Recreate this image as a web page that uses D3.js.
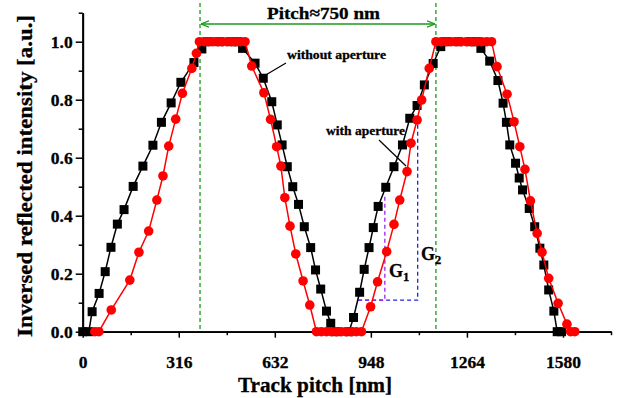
<!DOCTYPE html>
<html>
<head>
<meta charset="utf-8">
<script src="https://cdn.jsdelivr.net/npm/d3@7"></script>
<style>
  body { margin: 0; background: #fff; }
  svg text { font-family: "Liberation Serif", "Times New Roman", serif; font-weight: bold; fill: #000; stroke: #000; stroke-width: 0.3; }
</style>
</head>
<body>
<script>
// track position [nm] and inversed reflected intensity
const withoutX = [0, 20, 31, 54, 74, 93, 114, 136, 166, 198, 231, 259, 291, 323, 366, 392,
    410, 450, 490, 510,
    526, 567, 594, 622, 640, 656, 673, 691, 710, 729, 750, 766, 783, 802, 816, 832, 876,
    891, 911, 926, 942, 956, 972, 997, 1024, 1052, 1076, 1100, 1124, 1153, 1178,
    1195, 1235, 1275, 1295,
    1310, 1339, 1366, 1383, 1394, 1405, 1424, 1436, 1447, 1469, 1487, 1504, 1517, 1533, 1550, 1561, 1575];
const withoutY = [0, 0, 0.069, 0.132, 0.207, 0.291, 0.371, 0.421, 0.501, 0.571, 0.643, 0.722, 0.789, 0.860, 0.928, 0.975,
    1, 1, 1, 1,
    0.977, 0.926, 0.874, 0.793, 0.713, 0.644, 0.569, 0.500, 0.439, 0.362, 0.290, 0.213, 0.147, 0.071, 0.029, 0, 0,
    0.049, 0.136, 0.215, 0.290, 0.359, 0.432, 0.498, 0.569, 0.644, 0.736, 0.780, 0.851, 0.925, 0.983,
    1, 1, 1, 1,
    0.977, 0.933, 0.866, 0.788, 0.722, 0.644, 0.581, 0.530, 0.489, 0.425, 0.362, 0.288, 0.230, 0.144, 0.071, 0, 0];

const withX = [40, 53, 94, 155, 185, 217, 244, 264, 283, 306, 328, 359, 374,
    384, 399, 414, 429, 444, 459, 474, 489, 504, 519, 534,
    556, 596, 618, 638, 652, 665, 682, 701, 725, 747,
    769, 785, 802, 818, 835, 851, 867, 884, 900, 917,
    947, 970, 1000, 1024, 1043, 1067, 1080, 1100, 1115, 1140,
    1162, 1179, 1195, 1212, 1229, 1245, 1262, 1279, 1295, 1312, 1329, 1345,
    1363, 1396, 1419, 1438, 1455, 1473, 1495, 1511, 1533, 1564, 1593, 1605, 1619];
const withY = [0, 0, 0.075, 0.178, 0.274, 0.347, 0.454, 0.537, 0.640, 0.733, 0.822, 0.908, 0.960,
    1, 1, 1, 1, 1, 1, 1, 1, 1, 1, 1,
    0.916, 0.824, 0.732, 0.638, 0.571, 0.462, 0.364, 0.268, 0.175, 0.092,
    0, 0, 0, 0, 0, 0, 0, 0, 0, 0,
    0.086, 0.172, 0.276, 0.370, 0.454, 0.552, 0.650, 0.730, 0.799, 0.908,
    1, 1, 1, 1, 1, 1, 1, 1, 1, 1, 1, 1,
    0.914, 0.819, 0.724, 0.638, 0.560, 0.451, 0.339, 0.274, 0.184, 0.098, 0.026, 0, 0];

const xTicks = [0, 316, 632, 948, 1264, 1580];
const yTicks = [0, 0.2, 0.4, 0.6, 0.8, 1.0];
const pitchMarks = [386, 1162];           // green dashed guides
const g1Box = { x0: 906, x1: 994, y0: 0.109, y1: 0.466 };
const g2Box = { x0: 906, x1: 1102, y0: 0.109, y1: 0.730 };

const W = 620, H = 398;
const margin = { top: 12.7, right: 9, bottom: 66.3, left: 82.7 };

const x = d3.scaleLinear().domain([0, 1738]).range([margin.left, W - margin.right]);
const y = d3.scaleLinear().domain([0, 1.1]).range([H - margin.bottom, margin.top]);

const svg = d3.select('body').append('svg')
    .attr('width', W)
    .attr('height', H);

const green = '#1c9a1c';

// arrow heads
const defs = svg.append('defs');
defs.append('marker')
    .attr('id', 'arr')
    .attr('viewBox', '0 0 10 10')
    .attr('refX', 10).attr('refY', 5)
    .attr('markerWidth', 8).attr('markerHeight', 8)
    .attr('markerUnits', 'userSpaceOnUse')
    .attr('orient', 'auto-start-reverse')
    .append('path')
    .attr('d', 'M0,1 L10,5 L0,9')
    .attr('fill', 'none')
    .attr('stroke', green)
    .attr('stroke-width', 1.6);

// green dashed pitch guides
svg.append('g').selectAll('line')
    .data(pitchMarks)
    .enter().append('line')
    .attr('x1', d => x(d)).attr('x2', d => x(d))
    .attr('y1', 3).attr('y2', y(0))
    .attr('stroke', green)
    .attr('stroke-width', 1.3)
    .attr('stroke-dasharray', '4,3');

svg.append('line')
    .attr('x1', x(pitchMarks[0]) + 1).attr('x2', x(pitchMarks[1]) - 1)
    .attr('y1', 24).attr('y2', 24)
    .attr('stroke', green)
    .attr('stroke-width', 1.5)
    .attr('marker-start', 'url(#arr)')
    .attr('marker-end', 'url(#arr)');

svg.append('text')
    .attr('x', 267)
    .attr('y', 19)
    .attr('font-size', 17.5)
    .attr('textLength', 113)
    .attr('lengthAdjust', 'spacingAndGlyphs')
    .text('Pitch\u2248750 nm');

// G1 / G2 gradient boxes
const box = (b, color) => {
    svg.append('path')
        .attr('d', `M${x(b.x0)},${y(b.y0)}H${x(b.x1)}V${y(b.y1)}`)
        .attr('fill', 'none')
        .attr('stroke', color)
        .attr('stroke-width', 1.3)
        .attr('stroke-dasharray', '4,3');
};
box(g2Box, '#2222dd');
box(g1Box, '#a020f0');

// axes
const axisG = svg.append('g');
axisG.append('g')
    .attr('transform', `translate(0,${y(0)})`)
    .call(d3.axisBottom(x).tickValues(xTicks).tickSize(6).tickPadding(18).tickFormat(d3.format('d')).tickSizeOuter(0));
axisG.append('g')
    .attr('transform', `translate(0,${y(0)})`)
    .call(d3.axisBottom(x).tickValues(d3.range(158, 1739, 316)).tickSize(3.5).tickFormat('').tickSizeOuter(0));
axisG.append('g')
    .attr('transform', `translate(${x(0)},0)`)
    .call(d3.axisLeft(y).tickValues(yTicks).tickSize(7).tickPadding(3).tickFormat(d3.format('.1f')).tickSizeOuter(0));
axisG.append('g')
    .attr('transform', `translate(${x(0)},0)`)
    .call(d3.axisLeft(y).tickValues([0.1, 0.3, 0.5, 0.7, 0.9, 1.1]).tickSize(4).tickFormat('').tickSizeOuter(0));

axisG.selectAll('.domain').attr('stroke-width', 1.8).attr('stroke', '#000');
axisG.selectAll('.tick line').attr('stroke-width', 1.5).attr('stroke', '#000');
axisG.selectAll('.tick text')
    .attr('font-family', '"Liberation Serif", serif')
    .attr('font-weight', 'bold')
    .attr('font-size', 17.5)
    .attr('fill', '#000');

svg.append('text')
    .attr('x', 238)
    .attr('y', 392)
    .attr('font-size', 20)
    .attr('textLength', 154)
    .attr('lengthAdjust', 'spacingAndGlyphs')
    .text('Track pitch [nm]');

svg.append('text')
    .attr('transform', `translate(32,337) rotate(-90)`)
    .attr('font-size', 21)
    .attr('textLength', 322)
    .attr('lengthAdjust', 'spacingAndGlyphs')
    .text('Inversed reflected intensity [a.u.]');

// data series
const without = withoutX.map((v, i) => [v, withoutY[i]]);
const withAp = withX.map((v, i) => [v, withY[i]]);
const line = d3.line().x(d => x(d[0])).y(d => y(d[1]));

svg.append('path')
    .datum(without)
    .attr('d', line)
    .attr('fill', 'none')
    .attr('stroke', '#000')
    .attr('stroke-width', 1.5);
svg.append('g').selectAll('rect')
    .data(without)
    .enter().append('rect')
    .attr('x', d => x(d[0]) - 4.5)
    .attr('y', d => y(d[1]) - 4.5)
    .attr('width', 9).attr('height', 9)
    .attr('fill', '#000');

svg.append('path')
    .datum(withAp)
    .attr('d', line)
    .attr('fill', 'none')
    .attr('stroke', '#ff0000')
    .attr('stroke-width', 1.5);
svg.append('g').selectAll('circle')
    .data(withAp)
    .enter().append('circle')
    .attr('cx', d => x(d[0]))
    .attr('cy', d => y(d[1]))
    .attr('r', 4.8)
    .attr('fill', '#ff0000');

// labels with leader lines
svg.append('text')
    .attr('x', 287).attr('y', 59)
    .attr('font-size', 13.5)
    .attr('textLength', 99)
    .attr('lengthAdjust', 'spacingAndGlyphs')
    .text('without aperture');
svg.append('line')
    .attr('x1', 286).attr('y1', 63).attr('x2', 264).attr('y2', 76)
    .attr('stroke', '#000').attr('stroke-width', 1.2);

svg.append('text')
    .attr('x', 326).attr('y', 135)
    .attr('font-size', 13.5)
    .attr('textLength', 79)
    .attr('lengthAdjust', 'spacingAndGlyphs')
    .text('with aperture');
svg.append('line')
    .attr('x1', 379).attr('y1', 140).attr('x2', 406).attr('y2', 166)
    .attr('stroke', '#000').attr('stroke-width', 1.2);

const gLabel = (tx, ty, sub) => {
    const t = svg.append('text').attr('x', tx).attr('y', ty).attr('font-size', 18);
    t.append('tspan').text('G');
    t.append('tspan').attr('font-size', 12.5).attr('dy', 4).text(sub);
};
gLabel(389, 277, '1');
gLabel(421, 260, '2');
</script>
</body>
</html>
